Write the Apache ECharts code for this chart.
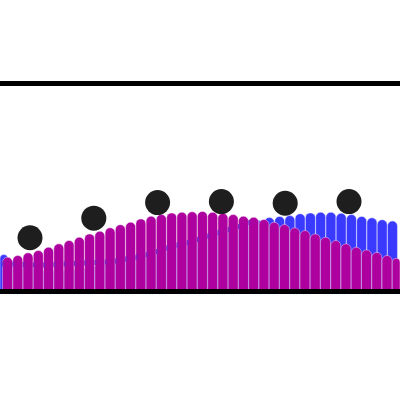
<!DOCTYPE html>
<html>
<head>
<meta charset="utf-8">
<script src="https://cdn.jsdelivr.net/npm/echarts@6/dist/echarts.min.js"></script>
<style>html,body{margin:0;padding:0;background:#fff}#c{width:400px;height:400px}</style>
</head>
<body>
<div id="c"></div>
<script>
var categories = ['1','2','3','4','5','6','7','8','9','10','11','12','13','14','15','16','17','18','19','20','21','22','23','24','25','26','27','28','29','30','31','32','33','34','35','36','37','38','39'];
var blueValues = [17.8,14,12,11,10,10,10,10.5,11,12,13,14,15.5,16.9,18.0,19.1,20.4,22.1,23.7,25.3,26.9,28.3,29.8,31.3,32.7,34.1,35.6,36.1,36.5,37.4,37.8,38.1,38.1,37.6,37.0,36.1,35.4,34.5,33.9];
var magentaValues = [16.5,17.3,18.6,19.7,21.3,22.9,24.5,26.1,27.7,29.0,30.6,32.1,33.3,34.9,36.2,37.0,37.8,38.1,38.3,38.5,38.1,37.6,37.0,36.2,35.7,34.6,33.3,32.2,30.6,29.3,27.7,26.1,24.5,22.9,21.3,20.0,18.8,17.3,16.0];
var dashValues = [13.0,13.0,12.7,12.5,12.5,12.7,13.0,13.2,13.5,13.7,13.9,14.4,15.4,16.3,17.5,19.0,20.7,22.1,23.3,24.8,26.4,28.1,29.6,31.0,33.0,null,null,null,null,null,null,null,null,null,null,null,null,null,null];
var dotCategories = ['A','B','C','D','E','F'];
var dotValues = [25.6,35.0,42.5,43.0,42.2,43.0];

var chart = echarts.init(document.getElementById('c'), null, {renderer:'canvas'});
chart.setOption({
  animation: false,
  backgroundColor: '#ffffff',
  grid: [
    {left: -4.5, right: -3.5, top: 83, bottom: 109, containLabel: false},
    {left: 30, right: 51, top: 83, bottom: 109, containLabel: false}
  ],
  xAxis: [
    {type:'category', gridIndex:0, data: categories, position:'bottom', z: 10,
     axisLine:{show:true, lineStyle:{color:'#000', width:5}},
     axisTick:{show:false}, axisLabel:{show:false}, splitLine:{show:false}},
    {type:'category', gridIndex:0, data: categories, position:'top', z: 10,
     axisLine:{show:true, onZero:false, lineStyle:{color:'#000', width:5}},
     axisTick:{show:false}, axisLabel:{show:false}, splitLine:{show:false}},
    {type:'category', gridIndex:1, data: dotCategories, boundaryGap:false, show:false}
  ],
  yAxis: [
    {type:'value', gridIndex:0, min:0, max:100, show:false, splitLine:{show:false}},
    {type:'value', gridIndex:1, min:0, max:100, show:false, splitLine:{show:false}}
  ],
  series: [
    {type:'bar', xAxisIndex:0, yAxisIndex:0, data: blueValues, barWidth:11, barGap:'-56%',
     itemStyle:{color:'#3a3aff', borderColor:'rgba(255,255,255,0.4)', borderWidth:1, borderRadius:[5,5,0,0]}},
    {type:'bar', xAxisIndex:0, yAxisIndex:0, data: magentaValues, barWidth:11, barGap:'-56%',
     itemStyle:{color:'#ad009e', borderColor:'rgba(255,255,255,0.4)', borderWidth:1, borderRadius:[5,5,0,0]}},
    {type:'scatter', xAxisIndex:0, yAxisIndex:0, data: dashValues, symbol:'rect', symbolSize:[2,5], symbolOffset:[-2,0], z:3,
     itemStyle:{color:'#7d1fc0', opacity:0.9}},
    {type:'scatter', xAxisIndex:2, yAxisIndex:1, data: dotValues, symbol:'circle', symbolSize:25, z:5,
     itemStyle:{color:'#1e1e1e', opacity:1}}
  ]
});
</script>
</body>
</html>
